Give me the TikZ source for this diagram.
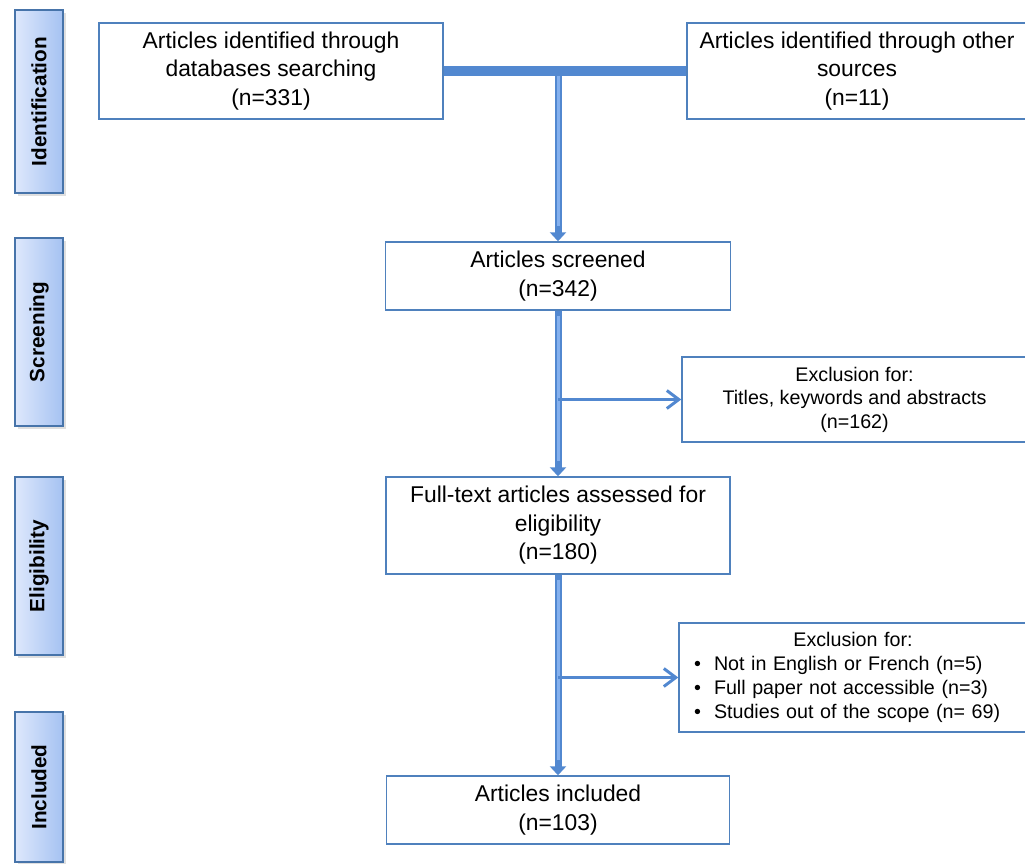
\documentclass[tikz,border=0pt]{standalone}
\usepackage{fontspec}
\setmainfont{Liberation Sans}
\usetikzlibrary{arrows.meta, positioning, shadows}

\definecolor{rahmenblau}{RGB}{79,129,189}
\definecolor{pfeilblau}{RGB}{82,136,208}
\definecolor{glanzblau}{RGB}{132,176,238}
\definecolor{phasehell}{RGB}{222,232,252}
\definecolor{phasedunkel}{RGB}{165,194,242}

\tikzset{
	kasten/.style={rectangle, draw=rahmenblau, line width=0.8pt, fill=white, inner sep=0pt, align=center, font=\fontsize{13}{16.2}\selectfont},
	phase/.style={rectangle, draw=rahmenblau!90!black, line width=0.8pt, left color=phasehell, right color=phasedunkel, minimum width=0.96cm, inner sep=0pt, font=\fontsize{11.8}{13}\selectfont\bfseries, drop shadow={opacity=0.25, shadow xshift=1.5pt, shadow yshift=-1.5pt}},
	trunk/.style={line width=0.14cm, draw=pfeilblau, -{Triangle[width=0.32cm, length=0.18cm]}},
	glanz/.style={line width=0.06cm, draw=glanzblau, xshift=-0.03cm, shorten >=0.3cm, shorten <=0.1cm},
	seitenpfeil/.style={line width=1.7pt, draw=pfeilblau, -{Straight Barb[length=0.24cm, width=0.36cm]}}
}

\begin{document}
\begin{tikzpicture}[>=latex, inner sep=0pt]

	\useasboundingbox (0,0) rectangle (20.5,-17.26);

	% Phasen
	\node[phase, minimum height=3.66cm](ident) at (0.78,-2.03) {\rotatebox{90}{Identification}};
	\node[phase, minimum height=3.76cm](screen) at (0.78,-6.64) {\rotatebox{90}{Screening}};
	\node[phase, minimum height=3.56cm](elig) at (0.78,-11.32) {\rotatebox{90}{Eligibility}};
	\node[phase, minimum height=3.00cm](incl) at (0.78,-15.74) {\rotatebox{90}{Included}};

	% Kaesten
	\node[kasten, minimum width=6.88cm, minimum height=1.92cm](dbs) at (5.42,-1.42) {Articles identified through\\databases searching\\(n=331)};
	\node[kasten, minimum width=6.80cm, minimum height=1.92cm](oth) at (17.14,-1.42) {Articles identified through other\\sources\\(n=11)};
	\node[kasten, minimum width=6.90cm, minimum height=1.36cm](scr) at (11.16,-5.52) {Articles screened\\(n=342)};
	\node[kasten, minimum width=6.88cm, minimum height=1.94cm](elg) at (11.16,-10.51) {Full-text articles assessed for\\eligibility\\(n=180)};
	\node[kasten, minimum width=6.86cm, minimum height=1.36cm](inc) at (11.16,-16.20) {Articles included\\(n=103)};

	\node[kasten, minimum width=6.90cm, minimum height=1.70cm, font=\fontsize{11.2}{13.4}\selectfont](ex1) at (17.09,-7.99) {Exclusion for:\\Titles, keywords and abstracts\\(n=162)};
	\node[kasten, text width=6.36cm, inner xsep=0.3cm, minimum height=2.18cm, align=left, font=\fontsize{11.2}{13.6}\selectfont](ex2) at (17.06,-13.55) {\makebox[6.36cm][c]{Exclusion for:}\\
		\makebox[0.4cm][l]{•}Not in English or French (n=5)\\
		\makebox[0.4cm][l]{•}Full paper not accessible (n=3)\\
		\makebox[0.4cm][l]{•}Studies out of the scope (n= 69)};

	\coordinate (knoten) at (dbs.east -| scr.north);

	% Balken
	\draw[line width=0.2cm, draw=pfeilblau](dbs.east) -- (oth.west);

	% vertikale Pfeile
	\draw[trunk](knoten) -- (scr.north);
	\draw[glanz](knoten) -- (scr.north);
	\draw[trunk](scr.south) -- (elg.north);
	\draw[glanz](scr.south) -- (elg.north);
	\draw[trunk](elg.south) -- (inc.north);
	\draw[glanz](elg.south) -- (inc.north);

	% horizontale Pfeile
	\draw[seitenpfeil](ex1.west -| scr.south) -- (ex1.west);
	\draw[seitenpfeil](ex2.west -| elg.south) -- (ex2.west);

\end{tikzpicture}
\end{document}
